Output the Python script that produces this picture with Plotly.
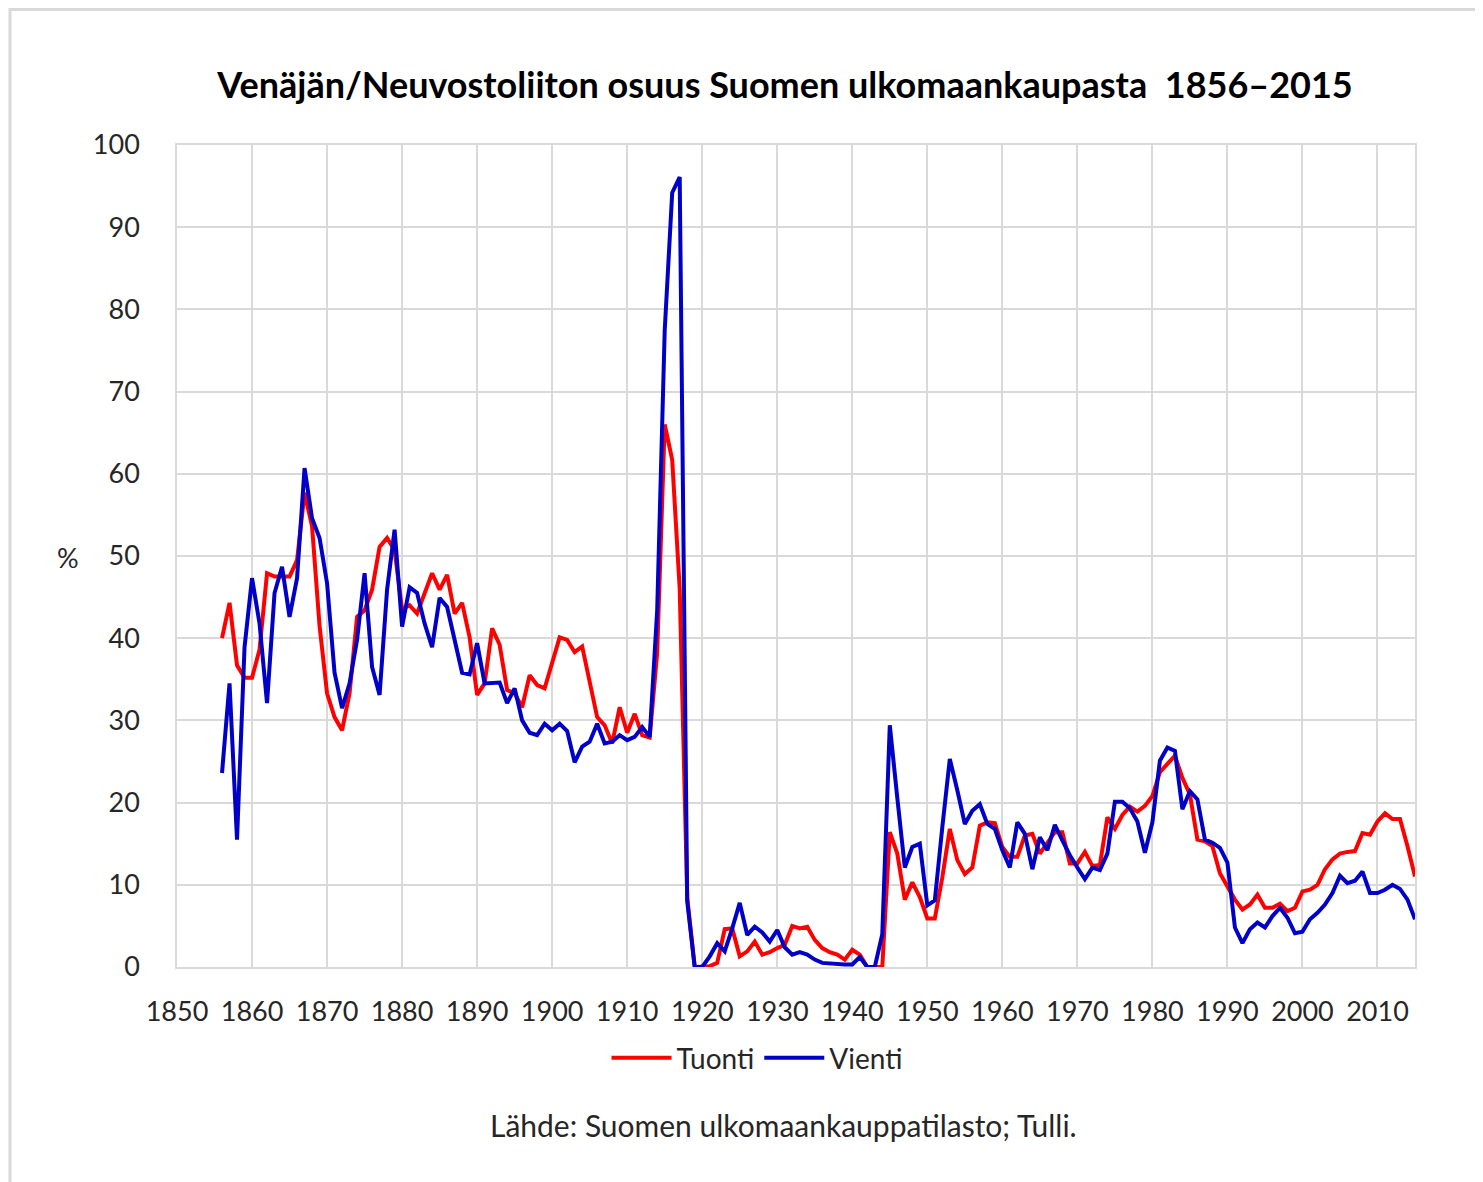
import plotly.graph_objects as go

years = list(range(1856, 2016))

tuonti = [
    40.0, 44.3, 36.7, 35.2, 35.2, 38.6, 47.9, 47.5, 47.5, 47.5,   # 1856-1865
    49.5, 57.7, 53.6, 41.5, 33.3, 30.4, 28.8, 33.3, 42.6, 43.4,   # 1866-1875
    45.9, 51.1, 52.2, 50.7, 43.5, 44.0, 43.0, 45.5, 47.9, 45.9,   # 1876-1885
    47.7, 43.0, 44.3, 40.1, 33.1, 34.5, 41.2, 39.2, 33.7, 33.3,   # 1886-1895
    31.6, 35.5, 34.3, 33.9, 37.0, 40.1, 39.8, 38.3, 39.0, 34.9,   # 1896-1905
    30.4, 29.4, 27.2, 31.6, 28.5, 30.8, 28.2, 27.9, 38.2, 66.0,   # 1906-1915
    61.7, 46.0, 8.5, 0.0, 0.0, 0.1, 0.5, 4.6, 4.7, 1.3,           # 1916-1925
    1.9, 3.1, 1.5, 1.8, 2.3, 2.7, 5.0, 4.7, 4.9, 3.3,             # 1926-1935
    2.3, 1.8, 1.5, 0.9, 2.1, 1.5, 0.0, 0.0, 0.0, 16.4,            # 1936-1945
    13.8, 8.2, 10.3, 8.5, 5.9, 5.9, 10.9, 16.8, 13.0, 11.3,       # 1946-1955
    12.1, 17.2, 17.6, 17.5, 14.6, 13.4, 13.4, 16.0, 16.2, 13.8,   # 1956-1965
    15.0, 16.4, 16.4, 12.6, 12.6, 14.0, 12.3, 12.4, 18.2, 16.8,   # 1966-1975
    18.5, 19.5, 18.9, 19.6, 20.8, 23.7, 24.7, 25.7, 23.0, 21.0,   # 1976-1985
    15.5, 15.3, 14.7, 11.4, 9.8, 8.2, 7.0, 7.6, 8.8, 7.2,         # 1986-1995
    7.2, 7.7, 6.8, 7.2, 9.2, 9.4, 10.0, 11.9, 13.1, 13.8,         # 1996-2005
    14.0, 14.1, 16.3, 16.1, 17.7, 18.7, 18.0, 18.0, 14.7, 11.0,   # 2006-2015
]

vienti = [
    23.6, 34.5, 15.5, 38.9, 47.3, 41.8, 32.1, 45.5, 48.7, 42.6,   # 1856-1865
    47.3, 60.7, 54.6, 52.2, 46.7, 35.8, 31.5, 34.5, 39.8, 47.9,   # 1866-1875
    36.5, 33.1, 45.9, 53.2, 41.4, 46.2, 45.5, 41.8, 38.9, 44.9,   # 1876-1885
    43.8, 39.9, 35.8, 35.6, 39.4, 34.5, 34.6, 34.6, 32.1, 33.9,   # 1886-1895
    30.0, 28.5, 28.2, 29.6, 28.8, 29.6, 28.7, 24.9, 26.8, 27.4,   # 1896-1905
    29.6, 27.2, 27.4, 28.2, 27.6, 28.0, 29.2, 28.0, 43.4, 77.4,   # 1906-1915
    94.2, 96.1, 8.0, 0.0, 0.0, 1.3, 2.9, 1.9, 4.7, 7.8,           # 1916-1925
    3.9, 4.9, 4.2, 3.1, 4.5, 2.4, 1.5, 1.8, 1.5, 0.9,             # 1926-1935
    0.5, 0.4, 0.4, 0.3, 0.3, 1.2, 0.0, 0.0, 4.0, 29.4,            # 1936-1945
    20.6, 12.1, 14.6, 15.0, 7.5, 8.1, 17.0, 25.3, 21.5, 17.4,     # 1946-1955
    19.0, 19.8, 17.4, 16.8, 14.2, 12.1, 17.6, 16.2, 11.9, 15.8,   # 1956-1965
    14.2, 17.3, 15.4, 13.6, 12.1, 10.7, 12.1, 11.8, 13.8, 20.1,   # 1966-1975
    20.1, 19.3, 17.7, 13.9, 17.6, 25.1, 26.7, 26.3, 19.2, 21.4,   # 1976-1985
    20.4, 15.5, 15.1, 14.5, 12.7, 4.8, 2.9, 4.6, 5.4, 4.8,        # 1986-1995
    6.2, 7.2, 6.0, 4.1, 4.3, 5.8, 6.6, 7.6, 9.0, 11.1,            # 1996-2005
    10.2, 10.5, 11.6, 9.0, 9.0, 9.4, 10.0, 9.5, 8.2, 5.8,         # 2006-2015
]

x_ticks = list(range(1850, 2020, 10))
y_ticks = list(range(0, 110, 10))

title_text = "Venäjän/Neuvostoliiton osuus Suomen ulkomaankaupasta&nbsp; 1856–2015"
source_text = "Lähde: Suomen ulkomaankauppatilasto; Tulli."

FONT = "Lato, 'Open Sans', sans-serif"
GRID = "#d9d9d9"

# page has an 8px body margin: figure coordinates = screen coordinates - 8
OFF = 8
W, H = 1483 - OFF, 1182 - OFF
L, R, T, B = 177 - OFF, 1415 - OFF, 145 - OFF, 967 - OFF


def px_x(px):
    return (px - OFF - L) / (R - L)


def px_y(py):
    return (B - (py - OFF)) / (B - T)


fig = go.Figure()
fig.add_trace(go.Scatter(x=years, y=tuonti, mode="lines", name="Tuonti",
                         line=dict(color="#ff0000", width=4)))
fig.add_trace(go.Scatter(x=years, y=vienti, mode="lines", name="Vienti",
                         line=dict(color="#0000c8", width=4)))

fig.update_layout(
    width=W, height=H,
    margin=dict(l=L, r=W - R, t=T, b=H - B, autoexpand=False),
    paper_bgcolor="white", plot_bgcolor="white",
    font=dict(family=FONT, size=28, color="#262626"),
    title=dict(text=title_text, x=px_x(785), xref="paper", xanchor="center",
               y=1 - (85 - OFF) / H, yref="container", yanchor="middle",
               font=dict(family=FONT, size=36, color="#000000", weight="bold")),
    showlegend=True,
    legend=dict(orientation="h", x=px_x(757), y=px_y(1058), xanchor="center",
                yanchor="middle", font=dict(size=28, color="#262626"),
                itemwidth=60, tracegroupgap=0, bgcolor="rgba(0,0,0,0)"),
    xaxis=dict(range=[1850, 2015], tickvals=x_ticks, ticktext=[str(v) for v in x_ticks],
               showgrid=True, gridcolor=GRID, gridwidth=1.5,
               showline=True, linecolor=GRID, linewidth=1.5, mirror=True,
               ticks="outside", ticklen=20, tickcolor="rgba(0,0,0,0)",
               zeroline=False, tickfont=dict(size=27, color="#262626")),
    yaxis=dict(range=[0, 100], tickvals=y_ticks, ticktext=[str(v) for v in y_ticks],
               showgrid=True, gridcolor=GRID, gridwidth=1.5,
               showline=True, linecolor=GRID, linewidth=1.5, mirror=True,
               ticks="outside", ticklen=30, tickcolor="rgba(0,0,0,0)",
               zeroline=False, tickfont=dict(size=27, color="#262626")),
    annotations=[
        dict(text="%", x=px_x(68), y=px_y(557), xref="paper", yref="paper",
             showarrow=False, xanchor="center", yanchor="middle",
             font=dict(size=27, color="#262626")),
        dict(text=source_text, x=px_x(783), y=px_y(1125), xref="paper", yref="paper",
             showarrow=False, xanchor="center", yanchor="middle",
             font=dict(size=30, color="#262626")),
    ],
    shapes=[
        dict(type="rect", xref="paper", yref="paper",
             x0=px_x(10), x1=px_x(1500), y0=px_y(1200), y1=px_y(9.5),
             line=dict(color=GRID, width=3), fillcolor="rgba(0,0,0,0)", layer="below"),
    ],
)

fig.write_html("out.html")
